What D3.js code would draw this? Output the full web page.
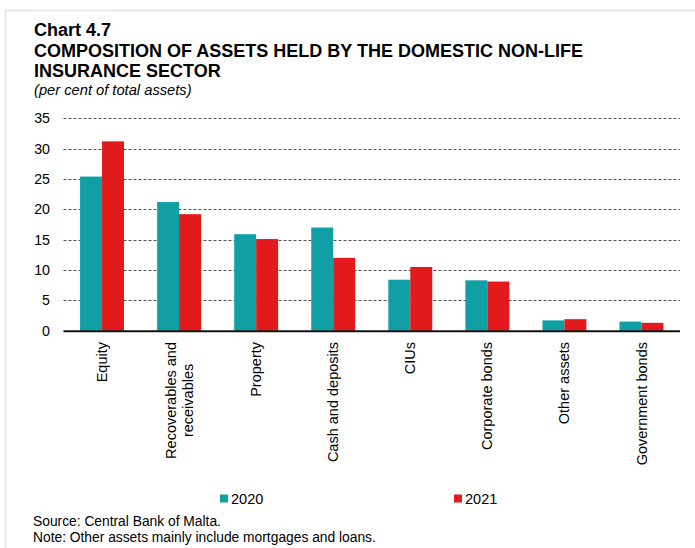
<!DOCTYPE html>
<html>
<head>
<meta charset="utf-8">
<script src="https://cdn.jsdelivr.net/npm/d3@7"></script>
<style>
  body { margin: 0; background: #fff; }
  svg { display: block; font-family: "Liberation Sans", Arial, sans-serif; }
</style>
</head>
<body>
<div id="chart"></div>
<script>
// categories, with manual line breaks for the axis labels
const categories = ["Equity", "Recoverables and\nreceivables", "Property", "Cash and deposits",
  "CIUs", "Corporate bonds", "Other assets", "Government bonds"];
const series = ["2020", "2021"];
const values2020 = [25.4, 21.2, 15.9, 17.0, 8.4, 8.3, 1.7, 1.5];
const values2021 = [31.2, 19.2, 15.1, 12.0, 10.5, 8.1, 1.9, 1.3];
const yTicks = [0, 5, 10, 15, 20, 25, 30, 35];
const colors = ["#109fa5", "#e21a1c"];

const width = 695, height = 548;
const plot = { left: 63.5, right: 680, top: 118.3, bottom: 330.7 };

const svg = d3.select("#chart").append("svg")
  .attr("width", width)
  .attr("height", height);

// light page frame
svg.append("path")
  .attr("d", `M5.5,${height} V10.5 H${width}`)
  .attr("fill", "none")
  .attr("stroke", "#e8e8e8")
  .attr("stroke-width", 2);

// titles
const titles = ["Chart 4.7", "COMPOSITION OF ASSETS HELD BY THE DOMESTIC NON-LIFE", "INSURANCE SECTOR"];
svg.selectAll("text.title")
  .data(titles)
  .join("text")
  .attr("class", "title")
  .attr("x", 34)
  .attr("y", (d, i) => 36 + i * 20.6)
  .attr("font-size", 18)
  .attr("font-weight", "bold")
  .attr("fill", "#000")
  .text(d => d);

svg.append("text")
  .attr("x", 34)
  .attr("y", 94.5)
  .attr("font-size", 14.7)
  .attr("font-style", "italic")
  .text("(per cent of total assets)");

const x = d3.scaleBand()
  .domain(categories)
  .range([plot.left, plot.right])
  .paddingInner(0.43)
  .paddingOuter(0.215);

const x1 = d3.scaleBand()
  .domain(series)
  .range([0, x.bandwidth()]);

const y = d3.scaleLinear()
  .domain([0, 35])
  .range([plot.bottom, plot.top]);

// gridlines
svg.append("g")
  .selectAll("line")
  .data(yTicks.filter(d => d > 0))
  .join("line")
  .attr("x1", plot.left)
  .attr("x2", plot.right)
  .attr("y1", d => Math.round(y(d)) + 0.5)
  .attr("y2", d => Math.round(y(d)) + 0.5)
  .attr("stroke", "#555")
  .attr("stroke-width", 1)
  .attr("stroke-dasharray", "3,2");

// y axis labels
const yAxis = svg.append("g")
  .attr("transform", `translate(${plot.left},0)`)
  .call(d3.axisLeft(y).tickValues(yTicks).tickSize(0).tickPadding(13.5));
yAxis.select(".domain").remove();
yAxis.selectAll("text")
  .attr("font-size", 14.2)
  .attr("font-family", "Liberation Sans, Arial, sans-serif")
  .attr("fill", "#000");

// bars
const table = categories.map((c, i) => ({ cat: c, vals: [values2020[i], values2021[i]] }));
const groups = svg.append("g")
  .selectAll("g")
  .data(table)
  .join("g")
  .attr("transform", d => `translate(${x(d.cat)},0)`);

groups.selectAll("rect")
  .data(d => d.vals.map((v, j) => ({ key: series[j], v, j })))
  .join("rect")
  .attr("x", d => x1(d.key))
  .attr("width", x1.bandwidth())
  .attr("y", d => y(d.v))
  .attr("height", d => y(0) - y(d.v))
  .attr("fill", d => colors[d.j]);

// x axis line
svg.append("line")
  .attr("x1", plot.left)
  .attr("x2", plot.right)
  .attr("y1", plot.bottom + 0.5)
  .attr("y2", plot.bottom + 0.5)
  .attr("stroke", "#111")
  .attr("stroke-width", 2);

// rotated category labels, top-aligned to the axis, lines centred
const labelTop = 342;
const fs = 14.5, lineH = 16.7;
categories.forEach(c => {
  const lines = c.split("\n");
  const cx = x(c) + x.bandwidth() / 2;
  const t = svg.append("text")
    .attr("font-size", fs)
    .attr("text-anchor", "middle")
    .attr("fill", "#000");
  lines.forEach((l, k) => {
    t.append("tspan")
      .attr("x", 0)
      .attr("y", (k - (lines.length - 1) / 2) * lineH + fs * 0.35)
      .text(l);
  });
  const maxW = d3.max(t.selectAll("tspan").nodes(), n => n.getComputedTextLength());
  t.attr("transform", `translate(${cx},${labelTop + maxW / 2}) rotate(-90)`);
});

// legend
const legendX = [220, 454];
series.forEach((s, i) => {
  svg.append("rect")
    .attr("x", legendX[i])
    .attr("y", 494.5)
    .attr("width", 8)
    .attr("height", 8)
    .attr("fill", colors[i]);
  svg.append("text")
    .attr("x", legendX[i] + 11)
    .attr("y", 504)
    .attr("font-size", 14.5)
    .text(s);
});

// notes
const notes = ["Source: Central Bank of Malta.", "Note: Other assets mainly include mortgages and loans."];
svg.selectAll("text.note")
  .data(notes)
  .join("text")
  .attr("class", "note")
  .attr("x", 33)
  .attr("y", (d, i) => 526 + i * 15.5)
  .attr("font-size", 13.8)
  .text(d => d);
</script>
</body>
</html>
